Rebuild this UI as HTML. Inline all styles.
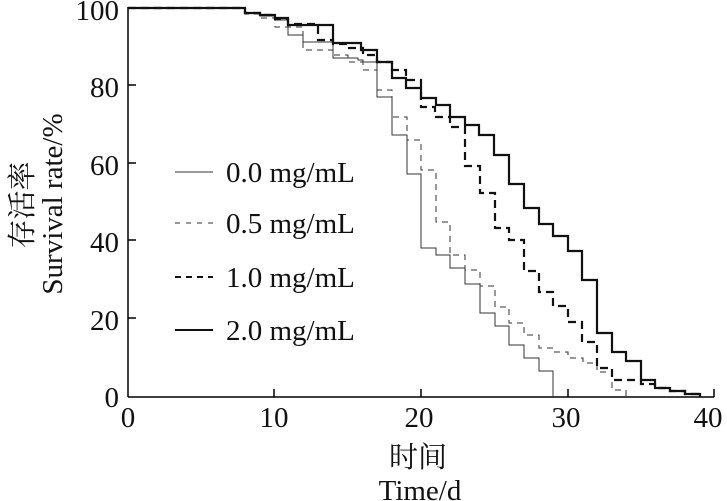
<!DOCTYPE html>
<html><head><meta charset="utf-8"><style>
html,body{margin:0;padding:0;background:#fff;}
svg{display:block;font-family:"Liberation Serif","Noto Serif CJK SC",serif;}
</style></head><body>
<svg width="727" height="501" viewBox="0 0 727 501" xmlns="http://www.w3.org/2000/svg">
<g stroke="#000" stroke-width="1.5" fill="none">
<line x1="128" y1="7" x2="128" y2="397"/>
<line x1="128" y1="397" x2="714" y2="397"/>
<line x1="128" y1="8" x2="136" y2="8"/>
<line x1="128" y1="85" x2="136" y2="85"/>
<line x1="128" y1="163" x2="136" y2="163"/>
<line x1="128" y1="240" x2="136" y2="240"/>
<line x1="128" y1="318" x2="136" y2="318"/>
<line x1="274" y1="397" x2="274" y2="389"/>
<line x1="421" y1="397" x2="421" y2="389"/>
<line x1="568" y1="397" x2="568" y2="389"/>
<line x1="714" y1="397" x2="714" y2="389"/>
</g>
<g font-size="29" text-anchor="end" fill="#111">
<text x="119" y="20">100</text>
<text x="119" y="97">80</text>
<text x="119" y="175">60</text>
<text x="119" y="252">40</text>
<text x="119" y="330">20</text>
<text x="119" y="407">0</text>
</g>
<g font-size="29" text-anchor="middle" fill="#111">
<text x="128" y="427">0</text>
<text x="274" y="427">10</text>
<text x="419" y="427">20</text>
<text x="566" y="427">30</text>
<text x="708" y="427">40</text>
<text x="418" y="467">时间</text>
<text x="420" y="500">Time/d</text>
</g>
<text transform="translate(32,205) rotate(-90)" font-size="29" text-anchor="middle" fill="#111">存活率</text>
<text transform="translate(62,204) rotate(-90)" font-size="29" text-anchor="middle" fill="#111">Survival rate/%</text>

<!-- 0.0 thin solid -->
<polyline fill="none" stroke="#333" stroke-width="1" points="128,8 245,8 245,13 260,13 260,16 275,16 275,20 288,20 288,35 303,35 303,42 333,42 333,58 358,58 358,60 363,60 363,62 377,62 377,97 392,97 392,135 407,135 407,174 421,174 421,248 436,248 436,255 450,255 450,268 465,268 465,284 480,284 480,313 495,313 495,326 509,326 509,345 524,345 524,358 539,358 539,371 553,371 553,397"/>
<!-- 0.5 thin dashed -->
<polyline fill="none" stroke="#333" stroke-width="1" stroke-dasharray="6,5" points="128,8 245,8 245,14 260,14 260,18 275,18 275,27 303,27 303,50 333,50 333,55 348,55 348,62 363,62 363,70 377,70 377,90 392,90 392,117 407,117 407,140 421,140 421,170 436,170 436,222 450,222 450,255 465,255 465,270 480,270 480,286 495,286 495,307 509,307 509,323 524,323 524,335 539,335 539,348 553,348 553,352 568,352 568,358 583,358 583,363 597,363 597,372 612,372 612,390 626,390 626,397"/>
<!-- 1.0 thick dashed -->
<polyline fill="none" stroke="#111" stroke-width="2.2" stroke-dasharray="8,5" points="128,8 245,8 245,13 260,13 260,15 275,15 275,19 288,19 288,24 318,24 318,40 333,40 333,44 348,44 348,48 363,48 363,55 377,55 377,62 392,62 392,70 406,70 406,80 421,80 421,107 435,107 435,117 450,117 450,127 465,127 465,166 480,166 480,193 495,193 495,228 509,228 509,240 524,240 524,271 539,271 539,292 553,292 553,306 568,306 568,322 582,322 582,342 597,342 597,368 612,368 612,380 641,380 641,384 655,384 655,388 670,388 670,391 685,391 685,394 700,394 700,397"/>
<!-- 2.0 thick solid -->
<polyline fill="none" stroke="#111" stroke-width="2.2" points="128,8 245,8 245,13 260,13 260,15 275,15 275,18 288,18 288,25 333,25 333,43 361,43 361,50 377,50 377,62 392,62 392,78 406,78 406,88 421,88 421,98 436,98 436,105 450,105 450,117 465,117 465,125 479,125 479,135 494,135 494,155 509,155 509,184 524,184 524,208 539,208 539,224 553,224 553,236 568,236 568,251 582,251 582,280 597,280 597,333 612,333 612,352 626,352 626,361 641,361 641,380 655,380 655,388 670,388 670,391 685,391 685,394 700,394 700,397"/>

<!-- legend -->
<line x1="175" y1="172" x2="213" y2="172" stroke="#333" stroke-width="1"/>
<line x1="175" y1="223" x2="213" y2="223" stroke="#333" stroke-width="1" stroke-dasharray="5,6"/>
<line x1="175" y1="277" x2="213" y2="277" stroke="#111" stroke-width="2" stroke-dasharray="6,5"/>
<line x1="175" y1="330" x2="213" y2="330" stroke="#111" stroke-width="2"/>
<g font-size="29" fill="#111">
<text x="226" y="182">0.0 mg/mL</text>
<text x="226" y="233">0.5 mg/mL</text>
<text x="226" y="287">1.0 mg/mL</text>
<text x="226" y="340">2.0 mg/mL</text>
</g>
</svg>
</body></html>
